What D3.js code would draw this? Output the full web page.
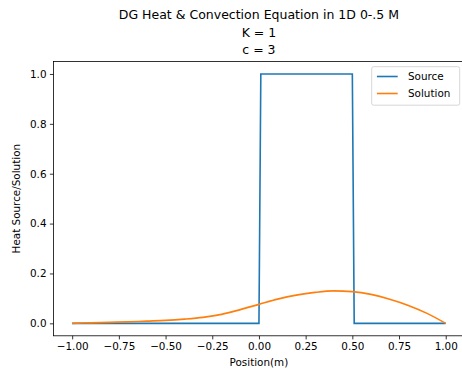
<!DOCTYPE html>
<html>
<head>
<meta charset="utf-8">
<script src="https://cdn.jsdelivr.net/npm/d3@7"></script>
<style>
  body { margin: 0; background: #fff; }
  svg { display: block; font-family: "DejaVu Sans", sans-serif; }
</style>
</head>
<body>
<svg id="chart" width="462" height="372"></svg>
<script>
const titleLines = ["DG Heat & Convection Equation in 1D 0-.5 M", "K = 1", "c = 3"];
const xLabel = "Position(m)";
const yLabel = "Heat Source/Solution";
const seriesNames = ["Source", "Solution"];

const sourceX = [-1, 0, 0.01, 0.5, 0.51, 1];
const sourceY = [0, 0, 1, 1, 0, 0];

const solutionX = [-1.0, -0.9, -0.8, -0.7, -0.6, -0.5, -0.4, -0.3, -0.2, -0.1, 0.0, 0.1, 0.2, 0.3, 0.4, 0.5, 0.6, 0.7, 0.8, 0.9, 1.0];
const solutionY = [0, 0.002, 0.004, 0.006, 0.009, 0.012, 0.017, 0.024, 0.036, 0.055, 0.076, 0.097, 0.113, 0.124, 0.130, 0.127, 0.116, 0.097, 0.072, 0.040, 0];

const xTicks = [-1.0, -0.75, -0.5, -0.25, 0, 0.25, 0.5, 0.75, 1.0];
const yTicks = [0, 0.2, 0.4, 0.6, 0.8, 1.0];

const svg = d3.select("#chart");
const mL = 53.5, mR = 464.4, mT = 61.5, mB = 335.8;
const x = d3.scaleLinear().domain([-1.1, 1.1]).range([mL, mR]);
const y = d3.scaleLinear().domain([-0.05, 1.05]).range([mB, mT]);

const colors = ["#1f77b4", "#ff7f0e"];

// lines
svg.append("path")
  .datum(sourceX.map((v, i) => [v, sourceY[i]]))
  .attr("d", d3.line().x(d => x(d[0])).y(d => y(d[1])))
  .attr("fill", "none").attr("stroke", colors[0]).attr("stroke-width", 1.6);
svg.append("path")
  .datum(solutionX.map((v, i) => [v, solutionY[i]]))
  .attr("d", d3.line().x(d => x(d[0])).y(d => y(d[1])).curve(d3.curveMonotoneX))
  .attr("fill", "none").attr("stroke", colors[1]).attr("stroke-width", 1.6);

// axes
const xAxis = d3.axisBottom(x).tickValues(xTicks).tickSize(3.6).tickPadding(3.4)
  .tickFormat(d => d3.format(".2f")(d).replace("-", "\u2212"));
const gx = svg.append("g").attr("transform", `translate(0,${mB})`).call(xAxis);
const yAxis = d3.axisLeft(y).tickValues(yTicks).tickSize(3.6).tickPadding(3.4)
  .tickFormat(d => d3.format(".1f")(d));
const gy = svg.append("g").attr("transform", `translate(${mL},0)`).call(yAxis);
[gx, gy].forEach(g => {
  g.select(".domain").remove();
  g.selectAll("text").attr("font-size", 10.4).attr("font-family", "DejaVu Sans").attr("fill", "#000");
  g.selectAll("line").attr("stroke", "#000").attr("stroke-width", 0.8);
});

// spines
svg.append("rect").attr("x", mL).attr("y", mT).attr("width", mR - mL).attr("height", mB - mT)
  .attr("fill", "none").attr("stroke", "#000").attr("stroke-width", 0.8);

// labels
svg.append("text").attr("x", (mL + mR) / 2).attr("y", 366).attr("text-anchor", "middle")
  .attr("font-size", 10.4).text(xLabel);
svg.append("text").attr("transform", `translate(19.5,${(mT + mB) / 2}) rotate(-90)`)
  .attr("text-anchor", "middle").attr("font-size", 10.4).text(yLabel);

// title
titleLines.forEach((t, i) => {
  svg.append("text").attr("x", (mL + mR) / 2).attr("y", 19 + i * 17.6)
    .attr("text-anchor", "middle").attr("font-size", 12.5).text(t);
});

// legend
const lg = svg.append("g");
lg.append("rect").attr("x", 371.7).attr("y", 66.7).attr("width", 88).attr("height", 38.5)
  .attr("rx", 2).attr("fill", "#fff").attr("fill-opacity", 0.8).attr("stroke", "#cccccc").attr("stroke-width", 0.8);
seriesNames.forEach((n, i) => {
  const yy = 76.5 + i * 17;
  lg.append("line").attr("x1", 376.9).attr("x2", 397.7).attr("y1", yy).attr("y2", yy)
    .attr("stroke", colors[i]).attr("stroke-width", 1.6);
  lg.append("text").attr("x", 408).attr("y", yy + 3.8).attr("font-size", 10.4).text(n);
});
</script>
</body>
</html>
